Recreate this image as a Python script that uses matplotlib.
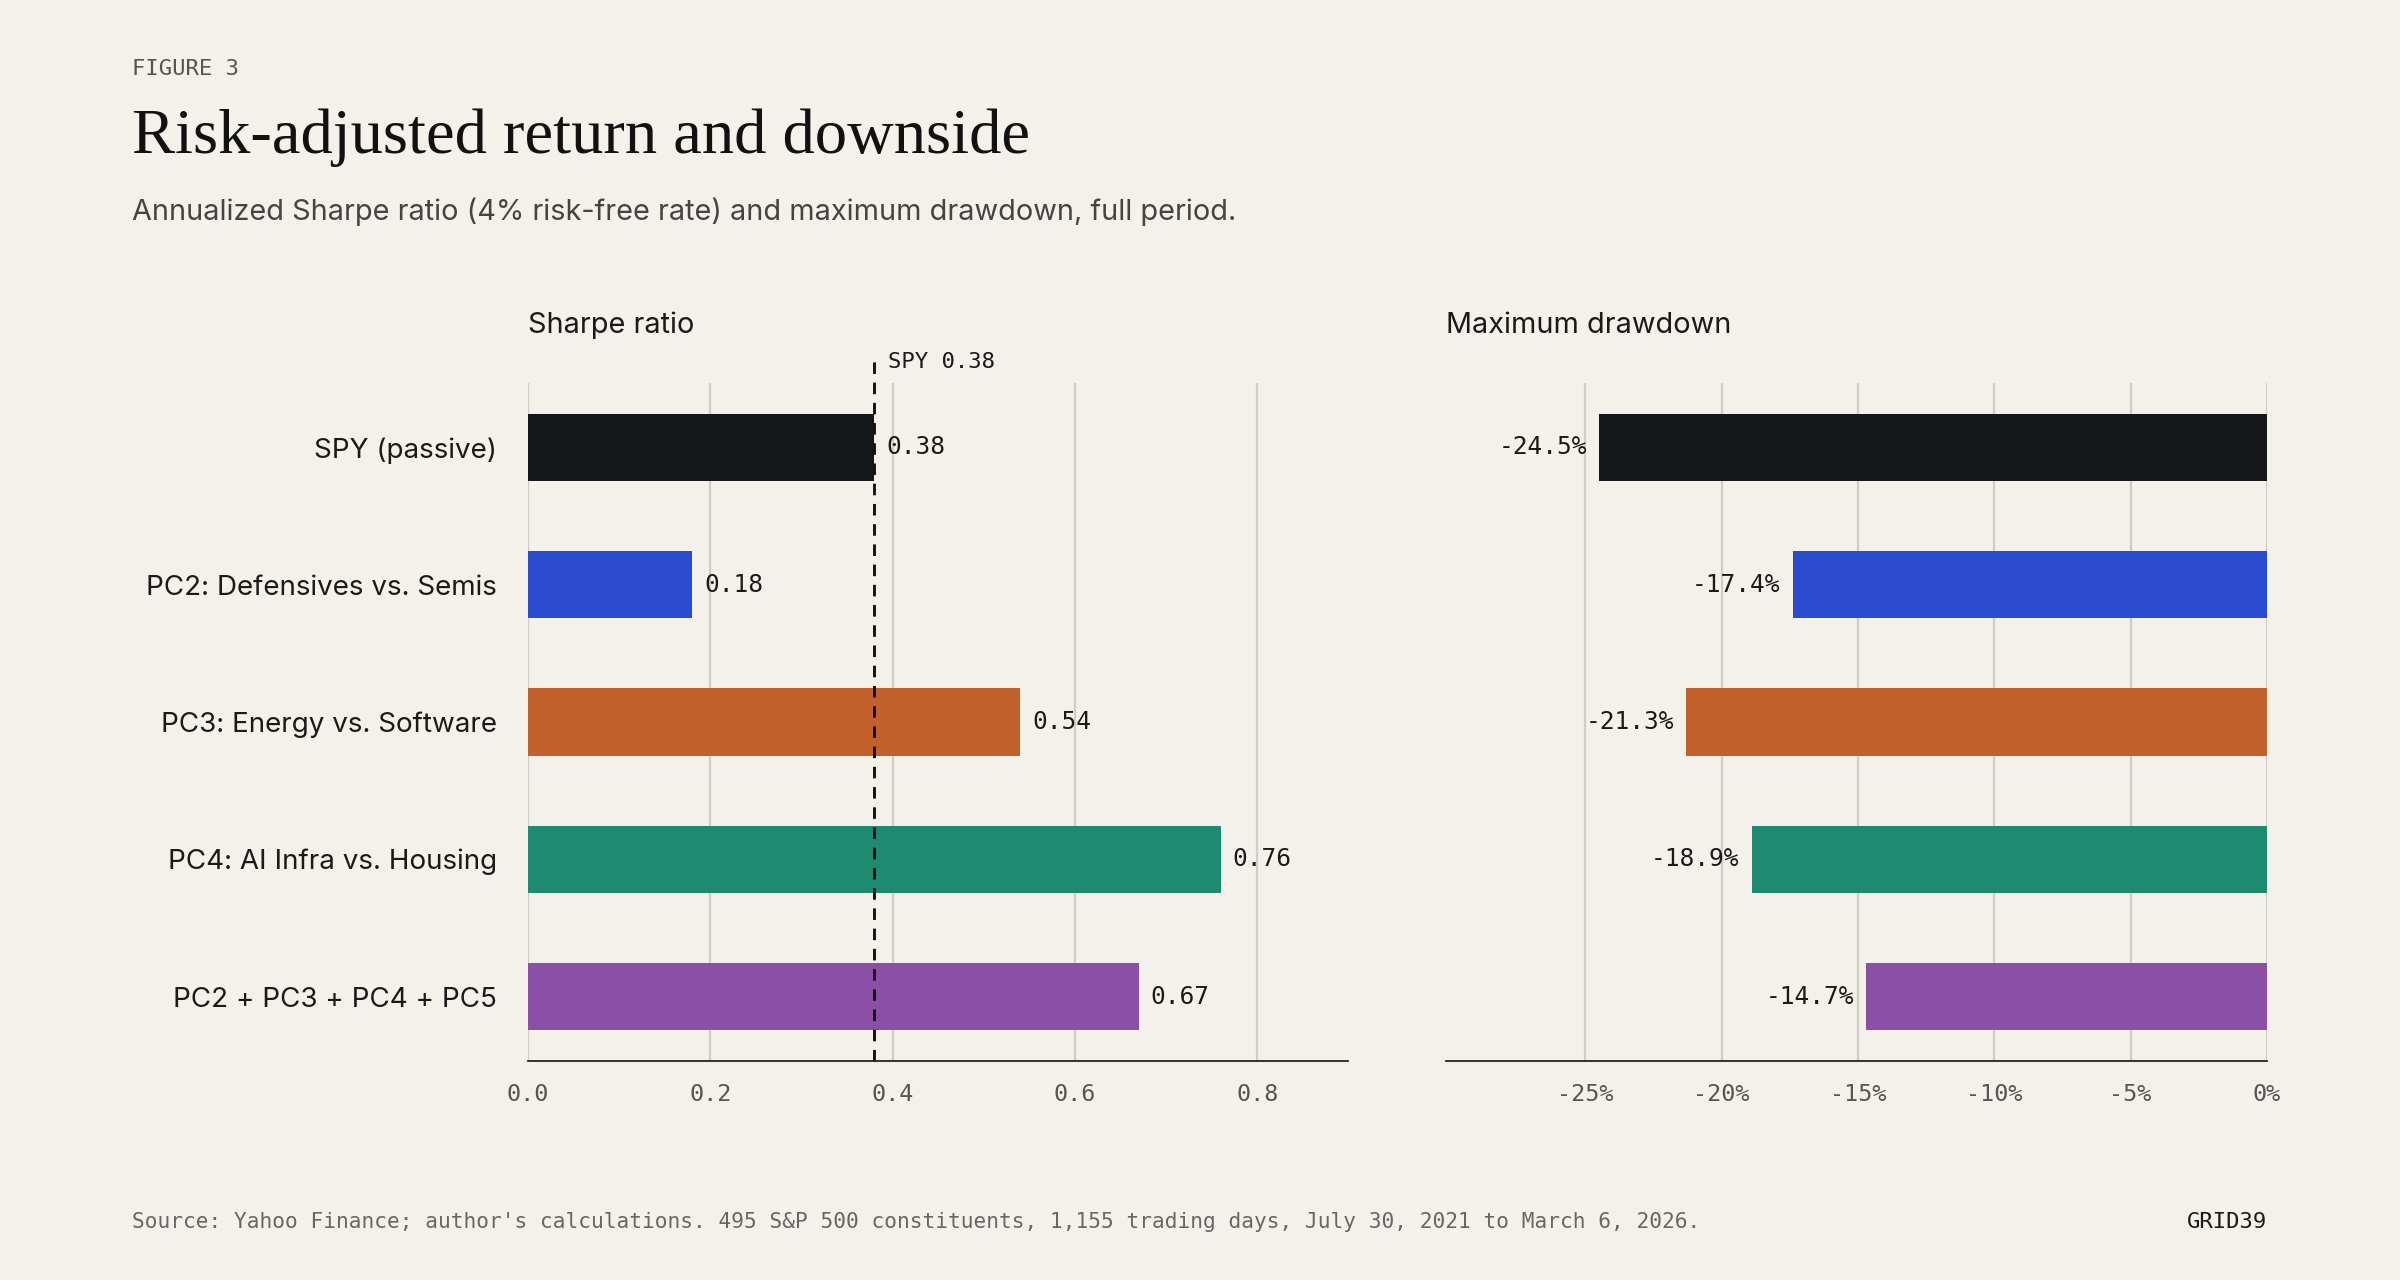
import matplotlib
matplotlib.use("Agg")
import matplotlib.pyplot as plt

categories = ["SPY (passive)", "PC2: Defensives vs. Semis", "PC3: Energy vs. Software",
              "PC4: AI Infra vs. Housing", "PC2 + PC3 + PC4 + PC5"]
sharpe = [0.38, 0.18, 0.54, 0.76, 0.67]
drawdown = [-24.5, -17.4, -21.3, -18.9, -14.7]
colors = ["#16171b", "#2b4bcf", "#c2612c", "#1e8a70", "#8b4fa6"]
spy_ref = 0.38

BG = "#f4f1ea"
SANS = ["Inter", "DejaVu Sans"]
MONO = ["DejaVu Sans Mono"]
SERIF = ["Liberation Serif", "DejaVu Serif"]

fig = plt.figure(figsize=(15, 8), dpi=160, facecolor=BG)
W, H = 1568, 836
def rect(x0, x1, y0, y1):
    return [x0 / W, 1 - y1 / H, (x1 - x0) / W, (y1 - y0) / H]

ax1 = fig.add_axes(rect(345, 881, 250, 693))
ax2 = fig.add_axes(rect(945, 1481, 250, 693))
y = list(range(len(categories)))

for ax in (ax1, ax2):
    ax.set_facecolor(BG)
    for s in ("top", "right", "left"):
        ax.spines[s].set_visible(False)
    ax.spines["bottom"].set_color("#222222")
    ax.set_ylim(4.47, -0.47)
    ax.grid(axis="x", color="#d2cec6", lw=1)
    ax.set_axisbelow(True)
    ax.tick_params(axis="x", length=0, pad=10, labelsize=10.5, labelcolor="#555555")
    ax.tick_params(axis="y", length=0)
    for t in ax.get_xticklabels():
        t.set_family(MONO)

ax1.barh(y, sharpe, height=0.49, color=colors)
ax1.set_xlim(0, 0.9)
ax1.set_xticks([0, 0.2, 0.4, 0.6, 0.8])
ax1.set_xticklabels([f"{v:.1f}" for v in [0, 0.2, 0.4, 0.6, 0.8]], family=MONO)
ax1.set_yticks(y)
ax1.set_yticklabels(categories, family=SANS, fontsize=12.5, color="#1a1a1a")
ax1.tick_params(axis="y", pad=14)
for yi, v in zip(y, sharpe):
    ax1.text(v + 0.013, yi, f"{v:.2f}", va="center", ha="left", family=MONO, fontsize=11, color="#1a1a1a")
ax1.axvline(spy_ref, color="#111111", ls=(0, (4, 3)), lw=1.3, ymax=1.04, clip_on=False)
ax1.text(spy_ref + 0.015, -0.62, f"SPY {spy_ref:.2f}", family=MONO, fontsize=10, ha="left", va="center", color="#1a1a1a")
ax1.text(0, 1.065, "Sharpe ratio", transform=ax1.transAxes, family=SANS, fontsize=13, ha="left", va="bottom", color="#1a1a1a")

ax2.barh(y, drawdown, height=0.49, color=colors)
ax2.set_xlim(-30.1, 0)
ticks = [-25, -20, -15, -10, -5, 0]
ax2.set_xticks(ticks)
ax2.set_xticklabels([f"{t}%" for t in ticks], family=MONO)
ax2.set_yticks([])
for yi, v in zip(y, drawdown):
    ax2.text(v - 0.45, yi, f"{v:.1f}%", va="center", ha="right", family=MONO, fontsize=11, color="#1a1a1a")
ax2.text(0, 1.065, "Maximum drawdown", transform=ax2.transAxes, family=SANS, fontsize=13, ha="left", va="bottom", color="#1a1a1a")

fig.text(86 / W, 1 - 45 / H, "FIGURE 3", family=MONO, fontsize=10, color="#555555", va="center")
fig.text(86 / W, 1 - 90 / H, "Risk-adjusted return and downside", family=SERIF, fontsize=29, color="#111111", va="center")
fig.text(86 / W, 1 - 138 / H, "Annualized Sharpe ratio (4% risk-free rate) and maximum drawdown, full period.",
         family=SANS, fontsize=13, color="#444444", va="center")
fig.text(86 / W, 1 - 798 / H, "Source: Yahoo Finance; author's calculations. 495 S&P 500 constituents, 1,155 trading days, July 30, 2021 to March 6, 2026.",
         family=MONO, fontsize=9.5, color="#666666", va="center")
fig.text(1481 / W, 1 - 798 / H, "GRID39", family=MONO, fontsize=10, color="#1a1a1a", va="center", ha="right")

fig.savefig("out.png", dpi=160, facecolor=BG)
